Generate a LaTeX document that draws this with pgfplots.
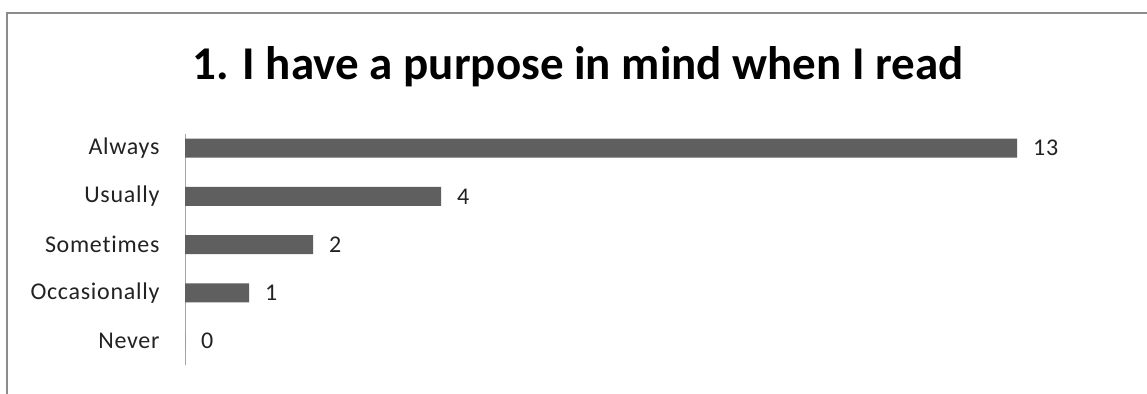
\documentclass[border=0pt]{standalone}
\usepackage{pgfplots}
\pgfplotsset{compat=1.18}
\usepackage{fontspec}
\setmainfont{Carlito}[Ligatures=NoCommon]
\newfontfamily\lblfont{Carlito}[Ligatures=NoCommon, LetterSpace=3]
\definecolor{barc}{HTML}{5F5F5F}
\definecolor{framec}{HTML}{8C8C8C}
\definecolor{axc}{HTML}{A6A6A6}
\definecolor{txt}{HTML}{222222}
\begin{document}
\begin{tikzpicture}
\useasboundingbox (0bp,0bp) rectangle (1147bp,394bp);
\fill[white] (0bp,0bp) rectangle (1147bp,394bp);
\draw[framec,line width=2bp] (7bp,0bp) -- (7bp,381bp) -- (1147bp,381bp);
\node[font=\fontsize{47bp}{50bp}\selectfont\bfseries, text=black] at (578bp,327bp) {1. I have a purpose in mind when I read};
\begin{axis}[
  at={(185bp,28.9bp)}, anchor=south west,
  scale only axis, width=960bp, height=231.4bp,
  xmin=0, xmax=15, ymin=-0.5, ymax=4.3,
  xbar, bar width=19bp,
  axis x line=none,
  axis y line*=left,
  y axis line style={axc, line width=0.8bp},
  ytick={0,1,2,3,4},
  yticklabels={Never,Occasionally,Sometimes,Usually,Always},
  major tick length=0pt,
  yticklabel style={font=\lblfont\fontsize{24bp}{26bp}\selectfont, text=txt, xshift=-22bp},
  nodes near coords,
  nodes near coords style={font=\lblfont\fontsize{24bp}{26bp}\selectfont, text=txt, anchor=west, xshift=16bp, inner sep=0pt},
  /pgf/number format/assume math mode=true,
]
\addplot[fill=barc, draw=none] coordinates {(0,0) (1,1) (2,2) (4,3) (13,4)};
\end{axis}
\end{tikzpicture}
\end{document}
